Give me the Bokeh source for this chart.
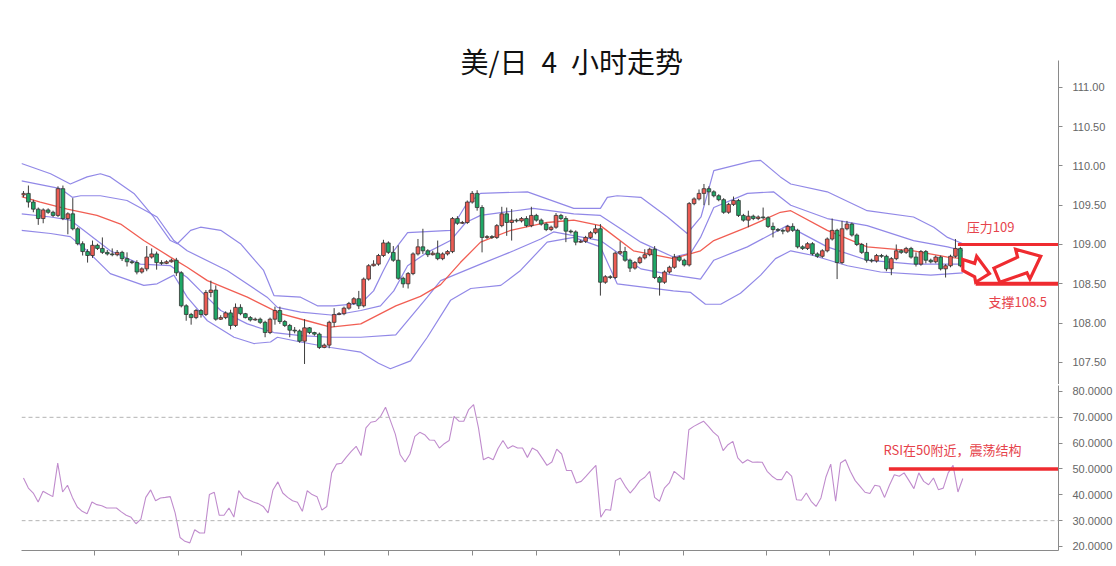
from bokeh.plotting import figure
from bokeh.models import Range1d, LinearAxis, FixedTicker, NumeralTickFormatter, Label, Span, ColumnDataSource
from bokeh.layouts import column
from bokeh.embed import file_html
from bokeh.resources import INLINE

# ---------------- data ----------------
opens = [109.63,109.65,109.54,109.45,109.33,109.44,109.41,109.37,109.71,109.33,
 109.39,109.20,109.01,108.91,108.86,108.99,108.95,108.90,108.88,108.87,
 108.90,108.82,108.78,108.77,108.65,108.69,108.84,108.88,108.77,108.76,
 108.78,108.80,108.64,108.22,108.11,108.07,108.16,108.11,108.39,108.42,
 108.05,108.07,108.13,107.97,108.20,108.12,108.07,108.04,108.05,108.01,
 107.88,108.05,108.16,108.02,107.97,107.91,107.90,107.77,107.94,107.88,
 107.86,107.69,107.72,108.01,108.11,108.12,108.19,108.25,108.31,108.22,
 108.56,108.73,108.75,108.86,109.02,108.90,108.80,108.57,108.50,108.63,
 108.88,108.97,108.92,108.87,108.89,108.82,108.88,108.91,109.33,109.27,
 109.28,109.54,109.65,109.47,109.09,109.10,109.09,109.24,109.39,109.28,
 109.31,109.30,109.33,109.24,109.37,109.31,109.26,109.19,109.22,109.37,
 109.33,109.17,109.16,109.03,109.04,109.09,109.15,109.20,108.52,108.59,
 108.58,108.89,108.91,108.80,108.70,108.77,108.83,108.87,108.94,108.58,
 108.52,108.65,108.71,108.84,108.80,108.74,109.52,109.58,109.65,109.71,
 109.67,109.62,109.57,109.41,109.51,109.56,109.37,109.31,109.36,109.33,
 109.35,109.34,109.23,109.19,109.18,109.17,109.23,109.18,108.97,108.95,
 109.01,108.88,108.85,108.92,109.07,109.18,108.77,109.20,109.26,109.12,
 109.00,108.90,108.80,108.79,108.86,108.85,108.69,108.82,108.92,108.90,
 108.95,108.84,108.75,108.91,108.80,108.78,108.84,108.69,108.73,108.85,
 108.95]
closes = [109.65,109.54,109.45,109.33,109.44,109.41,109.37,109.71,109.33,109.39,
 109.20,109.01,108.91,108.86,108.99,108.95,108.90,108.88,108.87,108.90,
 108.82,108.78,108.77,108.65,108.69,108.84,108.88,108.77,108.76,108.78,
 108.80,108.64,108.22,108.11,108.07,108.16,108.11,108.39,108.42,108.05,
 108.07,108.13,107.97,108.20,108.12,108.07,108.04,108.05,108.01,107.88,
 108.05,108.16,108.02,107.97,107.91,107.90,107.77,107.94,107.88,107.86,
 107.69,107.72,108.01,108.11,108.12,108.19,108.25,108.31,108.22,108.56,
 108.73,108.75,108.86,109.02,108.90,108.80,108.57,108.50,108.63,108.88,
 108.97,108.92,108.87,108.89,108.82,108.88,108.91,109.33,109.27,109.28,
 109.54,109.65,109.47,109.09,109.10,109.09,109.24,109.39,109.28,109.31,
 109.30,109.33,109.24,109.37,109.31,109.26,109.19,109.22,109.37,109.33,
 109.17,109.16,109.03,109.04,109.09,109.15,109.20,108.52,108.59,108.58,
 108.89,108.91,108.80,108.70,108.77,108.83,108.87,108.94,108.58,108.52,
 108.65,108.71,108.84,108.80,108.74,109.52,109.58,109.65,109.71,109.67,
 109.62,109.57,109.41,109.51,109.56,109.37,109.31,109.36,109.33,109.35,
 109.34,109.23,109.19,109.18,109.17,109.23,109.18,108.97,108.95,109.01,
 108.88,108.85,108.92,109.07,109.18,108.77,109.20,109.26,109.12,109.00,
 108.90,108.80,108.79,108.86,108.85,108.69,108.82,108.92,108.90,108.95,
 108.84,108.75,108.91,108.80,108.78,108.84,108.69,108.73,108.85,108.95,
 108.73]
highs = [109.68,109.75,109.57,109.47,109.46,109.46,109.43,109.74,109.75,109.41,
 109.59,109.22,109.04,108.94,109.05,109.01,109.09,108.93,108.95,108.93,
 108.92,108.90,108.80,108.80,108.71,108.98,108.95,108.91,108.80,108.80,
 108.82,108.83,108.66,108.24,108.13,108.18,108.18,108.42,108.54,108.48,
 108.10,108.15,108.17,108.25,108.24,108.13,108.09,108.07,108.07,108.03,
 108.07,108.21,108.21,108.04,107.99,107.95,107.92,108.05,107.95,107.89,
 107.88,107.74,108.03,108.19,108.14,108.21,108.27,108.33,108.41,108.58,
 108.75,108.80,108.88,109.06,109.04,108.98,108.99,108.59,108.65,108.90,
 109.07,109.20,108.94,108.92,109.05,108.90,108.93,109.35,109.36,109.30,
 109.56,109.68,109.69,109.50,109.12,109.12,109.26,109.48,109.47,109.45,
 109.33,109.35,109.36,109.48,109.39,109.33,109.28,109.24,109.40,109.39,
 109.36,109.19,109.18,109.06,109.11,109.17,109.25,109.26,108.61,108.61,
 108.91,109.04,108.97,108.82,108.79,108.85,108.94,108.96,108.98,108.60,
 108.67,108.73,108.88,108.86,108.82,109.54,109.60,109.70,109.77,109.74,
 109.69,109.64,109.59,109.53,109.61,109.58,109.39,109.43,109.38,109.37,
 109.47,109.36,109.28,109.21,109.20,109.25,109.27,109.20,108.99,109.03,
 109.03,108.90,108.94,109.09,109.33,109.20,109.30,109.30,109.28,109.14,
 109.02,109.02,108.82,108.88,108.88,108.87,108.84,109.00,108.94,108.97,
 108.97,108.90,108.93,108.93,108.82,108.86,108.86,108.75,108.87,109.07,
 108.97]
lows = [109.60,109.47,109.41,109.25,109.27,109.39,109.35,109.35,109.31,109.13,
 109.18,108.99,108.86,108.77,108.83,108.93,108.88,108.86,108.85,108.85,
 108.79,108.72,108.75,108.62,108.63,108.66,108.82,108.68,108.74,108.75,
 108.77,108.60,108.20,108.03,107.98,108.05,108.07,108.09,108.33,108.03,
 108.04,108.05,107.92,107.95,108.10,108.06,108.02,108.03,107.99,107.82,
 107.86,107.98,107.99,107.95,107.82,107.87,107.75,107.48,107.86,107.84,
 107.67,107.68,107.68,107.95,108.10,108.10,108.17,108.23,108.18,108.20,
 108.54,108.72,108.73,108.84,108.88,108.78,108.55,108.45,108.44,108.61,
 108.86,108.88,108.84,108.86,108.80,108.80,108.86,108.89,109.25,109.26,
 109.26,109.52,109.43,108.90,109.07,109.07,109.07,109.22,109.11,109.05,
 109.28,109.28,109.22,109.22,109.29,109.24,109.17,109.17,109.20,109.31,
 109.03,109.14,108.99,109.02,109.02,109.07,109.13,108.35,108.50,108.56,
 108.56,108.87,108.78,108.65,108.68,108.75,108.81,108.85,108.56,108.35,
 108.50,108.63,108.69,108.78,108.72,108.72,109.50,109.56,109.50,109.50,
 109.60,109.55,109.39,109.39,109.49,109.35,109.29,109.22,109.31,109.31,
 109.32,109.21,109.09,109.16,109.13,109.15,109.16,108.95,108.93,108.93,
 108.86,108.83,108.83,108.90,109.05,108.56,108.75,109.18,109.10,108.98,
 108.88,108.77,108.77,108.77,108.83,108.66,108.61,108.80,108.88,108.88,
 108.82,108.72,108.73,108.76,108.76,108.76,108.67,108.58,108.71,108.83,
 108.71]

# Bollinger bands (outer upper, inner upper, middle MA, inner lower, outer lower)
ou_x = [-0.4,5.5,9.5,12.9,15.6,17.6,22.4,26.4,29.8,31.2,33.9,35.9,40.0,44.0,48.7,50.8,56.2,59.6,62.9,68.4,
        71.0,73.0,75.1,77.9,86.6,89.7,92.7,102.2,111.6,117.0,118.4,120.4,125.2,130.6,134.6,137.4,140.0,
        147.7,149.5,153.5,155.6,163.0,171.1,180.5,184.6,187.4,190.5]
ou_y = [110.03,109.90,109.77,109.86,109.90,109.86,109.65,109.35,109.05,109.01,109.18,109.22,109.18,109.01,
        108.67,108.35,108.33,108.22,108.22,108.25,108.41,108.67,108.92,109.15,109.18,109.50,109.65,109.67,
        109.46,109.46,109.60,109.62,109.60,109.35,109.14,109.35,109.94,110.06,110.07,109.86,109.77,109.67,
        109.43,109.35,109.22,109.09,109.01]
iu_x = [-0.4,7.5,9.9,11.6,15.6,21.0,27.1,30.5,33.2,41.3,49.4,51.5,56.2,62.9,68.4,72.4,75.1,77.9,81.9,86.6,
        89.7,92.7,103.4,111.6,117.0,121.1,125.2,131.8,135.3,137.3,140.0,146.8,152.1,155.6,163.0,171.1,
        180.5,187.4,190.5]
iu_y = [109.81,109.71,109.60,109.62,109.62,109.56,109.35,109.05,108.92,108.67,108.33,108.20,108.14,108.10,
        108.16,108.22,108.41,108.73,108.90,109.05,109.28,109.37,109.46,109.39,109.37,109.20,109.03,108.84,
        108.89,109.09,109.47,109.65,109.67,109.50,109.33,109.24,109.05,108.97,108.92]
ma_x = [-0.4,3.4,8.9,14.9,19.7,24.4,29.8,33.2,37.3,45.4,52.1,57.5,62.3,68.4,75.5,80.5,84.6,88.6,92.7,98.8,
        106.2,111.6,117.0,123.7,131.8,137.3,140.0,146.8,153.5,155.6,163.0,171.1,180.5,187.4,190.5]
ma_y = [109.61,109.54,109.45,109.37,109.26,109.05,108.84,108.71,108.54,108.33,108.12,108.03,107.95,107.99,
        108.22,108.34,108.49,108.77,109.03,109.18,109.28,109.31,109.24,108.92,108.82,108.92,109.05,109.22,
        109.41,109.43,109.18,108.97,108.92,108.84,108.82]
il_x = [-0.4,5.5,9.5,12.2,17.6,23.7,29.8,33.2,35.9,40.0,45.4,50.8,56.2,62.3,68.4,75.5,81.9,84.6,92.7,99.4,
        104.9,107.5,117.0,125.2,131.8,137.3,140.0,146.8,154.9,163.0,171.1,180.5,190.5]
il_y = [109.39,109.35,109.31,109.18,108.92,108.75,108.73,108.58,108.41,108.16,107.99,107.88,107.84,107.82,
        107.82,107.85,108.33,108.54,108.75,108.92,109.07,109.16,109.05,108.69,108.61,108.56,108.80,108.97,
        109.24,108.97,108.80,108.75,108.75]
ol_x = [-0.4,5.5,9.5,12.9,17.6,24.4,27.1,30.5,33.2,37.3,42.7,46.7,50.1,51.5,56.2,62.3,68.4,72.0,74.4,78.5,
        81.9,86.6,90.7,96.8,100.8,106.2,111.6,117.0,120.4,131.8,135.3,138.3,141.4,145.4,149.5,152.5,155.6,
        160.2,167.1,173.8,184.0,190.5]
ol_y = [109.18,109.14,109.10,108.92,108.63,108.48,108.50,108.61,108.33,108.03,107.82,107.74,107.76,107.82,
        107.76,107.69,107.63,107.49,107.42,107.52,107.82,108.29,108.44,108.48,108.67,109.03,109.09,108.97,
        108.50,108.41,108.39,108.24,108.24,108.38,108.61,108.82,108.92,108.86,108.73,108.65,108.61,108.64]

rsi = [46.5,42.6,40.7,37.2,41.4,40.3,39.3,52.3,41.1,43.7,39.0,35.3,33.6,32.7,37.2,36.2,35.8,34.9,34.9,34.9,
       33.4,32.1,31.3,28.8,30.6,39.0,41.9,37.7,38.8,39.0,39.3,33.0,23.5,22.0,21.4,26.5,25.2,25.2,40.1,41.0,
       32.1,32.1,34.9,31.4,41.6,39.0,38.1,37.2,36.6,35.5,33.0,41.9,45.0,40.7,39.0,37.7,37.1,33.6,41.6,40.1,
       39.3,34.1,35.5,48.5,51.9,52.2,54.6,56.8,58.8,55.2,65.9,68.1,68.5,70.4,73.9,68.7,63.5,55.5,52.7,55.8,
       62.6,64.2,63.3,61.2,61.1,58.1,59.8,61.0,70.4,68.5,68.5,73.0,74.9,65.9,53.6,54.5,53.6,57.9,61.0,57.9,
       59.0,58.1,58.1,54.5,58.1,57.1,
       54.3,51.4,52.7,57.7,55.8,49.4,49.4,44.6,45.2,47.2,49.4,51.4,31.3,34.3,34.0,45.5,46.5,43.3,40.7,42.9,
       45.5,46.8,49.1,39.0,37.5,42.6,44.6,49.1,47.5,45.9,65.2,66.5,67.5,68.5,66.5,64.3,62.6,57.1,59.4,60.7,
       54.3,52.3,53.6,52.6,52.7,52.6,49.1,47.2,45.9,45.9,49.1,47.2,38.1,37.9,40.7,37.5,35.5,38.8,46.8,51.9,
       37.5,52.3,53.6,49.1,45.5,43.3,41.0,40.5,43.7,43.3,39.0,43.7,47.8,47.2,48.5,45.5,42.4,48.5,45.2,43.9,
       46.5,42.0,42.6,48.5,51.4,41.1,46.3]

price_ticks = [107.5, 108.0, 108.5, 109.0, 109.5, 110.0, 110.5, 111.0]
rsi_ticks = [20, 30, 40, 50, 60, 70, 80]
time_ticks = [14.5, 31.4, 44.2, 61.1, 74.1, 91.0, 104.0, 120.8, 133.8, 150.7, 163.4, 180.4, 193.1]

title_text = "美/日\u20024\u2002小时走势"
resistance = 109.0
support = 108.5
rsi_mid = 50
resist_label = "压力109"
support_label = "支撑108.5"
rsi_label = "RSI在50附近，震荡结构"

# annotation arrows (index, price)
arrow1_x = [190.5, 192.9, 193.3, 195.9, 193.1, 192.9, 190.5]
arrow1_y = [108.81, 108.76, 108.85, 108.63, 108.52, 108.59, 108.67]
arrow2_x = [196.8, 201.6, 201.2, 206.3, 204.1, 203.5, 198.0]
arrow2_y = [108.70, 108.84, 108.94, 108.85, 108.56, 108.64, 108.52]

# ---------------- styling ----------------
UP = "#ec5b53"
DOWN = "#1fa866"
BAND = "#8b82e6"
MA = "#f0554a"
RED = "#ef2b30"
TXT_RED = "#e6434b"
AXIS = "#8a8a8a"
LABEL = "#666666"
CJK = "Noto Sans CJK SC"

n = len(closes)
idx = list(range(n))
colors = [UP if c > o else DOWN for o, c in zip(opens, closes)]
top = [max(o, c) for o, c in zip(opens, closes)]
bot = [min(o, c) for o, c in zip(opens, closes)]
src = ColumnDataSource(dict(x=idx, top=top, bot=bot, hi=highs, lo=lows, color=colors))

XR = (-0.4, 209.9)
PRICE_TOP = 111.341   # where the price axis line starts

p1 = figure(width=1116, height=384, x_range=Range1d(*XR), y_range=Range1d(107.219, 112.104),
            output_backend="svg", toolbar_location=None, x_axis_location=None, y_axis_location=None,
            min_border_left=21, min_border_right=58, min_border_top=0, min_border_bottom=0)
p1.grid.visible = False
p1.outline_line_color = None

yax = LinearAxis(ticker=FixedTicker(ticks=price_ticks), formatter=NumeralTickFormatter(format="0.00"),
                 bounds=(107.0, PRICE_TOP))
yax.axis_line_color = AXIS
yax.major_tick_line_color = AXIS
yax.major_tick_out = 4
yax.major_tick_in = 0
yax.minor_tick_line_color = None
yax.major_label_text_font = "Liberation Sans"
yax.major_label_text_font_size = "11px"
yax.major_label_text_color = LABEL
yax.major_label_standoff = 10
p1.add_layout(yax, "right")

sep = LinearAxis(ticker=FixedTicker(ticks=[]))
sep.axis_line_color = AXIS
sep.major_tick_out = 0
sep.major_tick_in = 0
sep.minor_tick_line_color = None
sep.major_label_standoff = 0
p1.add_layout(sep, "below")

# bands
for xs, ys, col, w in [(ou_x, ou_y, BAND, 1.2), (iu_x, iu_y, BAND, 1.2), (il_x, il_y, BAND, 1.2),
                       (ol_x, ol_y, BAND, 1.2), (ma_x, ma_y, MA, 1.3)]:
    p1.line(xs, ys, line_color=col, line_width=w, line_alpha=0.95)

# candles
p1.segment(x0="x", y0="lo", x1="x", y1="hi", source=src, line_color="#3c3c3c", line_width=1)
p1.vbar(x="x", width=0.74, top="top", bottom="bot", source=src, fill_color="color",
        line_color="#333333", line_width=0.8)

# support / resistance
p1.line([189.5, XR[1]], [resistance, resistance], line_color=RED, line_width=3)
p1.line([193.1, XR[1]], [support, support], line_color=RED, line_width=4)
p1.patch(arrow1_x, arrow1_y, fill_color="white", line_color=RED, line_width=3.2, line_join="miter")
p1.patch(arrow2_x, arrow2_y, fill_color="white", line_color=RED, line_width=3.2, line_join="miter")

p1.add_layout(Label(x=191.3, y=109.229, text=resist_label, text_font=CJK, text_font_size="13px",
                    text_color=TXT_RED, text_baseline="middle"))
p1.add_layout(Label(x=195.7, y=108.275, text=support_label, text_font=CJK, text_font_size="13px",
                    text_color=TXT_RED, text_baseline="middle"))
p1.add_layout(Label(x=111.2, y=111.328, text=title_text, text_font=CJK, text_font_size="28px",
                    text_color="#111111", text_align="center", text_baseline="middle"))

# ---------------- RSI panel ----------------
p2 = figure(width=1116, height=182, x_range=p1.x_range, y_range=Range1d(18.45, 82.32),
            output_backend="svg", toolbar_location=None, x_axis_location=None, y_axis_location=None,
            min_border_left=21, min_border_right=58, min_border_top=1, min_border_bottom=16)
p2.grid.visible = False
p2.outline_line_color = None

rax = LinearAxis(ticker=FixedTicker(ticks=rsi_ticks), formatter=NumeralTickFormatter(format="0.0000"))
rax.axis_line_color = AXIS
rax.major_tick_line_color = AXIS
rax.major_tick_out = 4
rax.major_tick_in = 0
rax.minor_tick_line_color = None
rax.major_label_text_font = "Liberation Sans"
rax.major_label_text_font_size = "11px"
rax.major_label_text_color = LABEL
rax.major_label_standoff = 10
p2.add_layout(rax, "right")

bax = LinearAxis(ticker=FixedTicker(ticks=time_ticks))
bax.axis_line_color = AXIS
bax.major_tick_line_color = AXIS
bax.major_tick_out = 5
bax.major_tick_in = 0
bax.minor_tick_line_color = None
bax.major_label_text_font_size = "0px"
bax.major_label_text_alpha = 0
bax.major_label_standoff = 0
p2.add_layout(bax, "below")

for lvl in (70, 30):
    p2.add_layout(Span(location=lvl, dimension="width", line_color="#b4b4b4", line_dash="4 3", line_width=1))

m = len(rsi)
rsi_x = [i * 190.5 / (m - 1) for i in range(m)]
p2.line(rsi_x, rsi, line_color="#c08ccd", line_width=1.1)

p2.line([175.5, XR[1]], [rsi_mid, rsi_mid], line_color=RED, line_width=3.5)
p2.add_layout(Label(x=174.4, y=57.5, text=rsi_label, text_font=CJK, text_font_size="13px",
                    text_color=TXT_RED, text_baseline="middle"))

layout = column(p1, p2, spacing=0)
open("out.html", "w").write(file_html(layout, INLINE))
